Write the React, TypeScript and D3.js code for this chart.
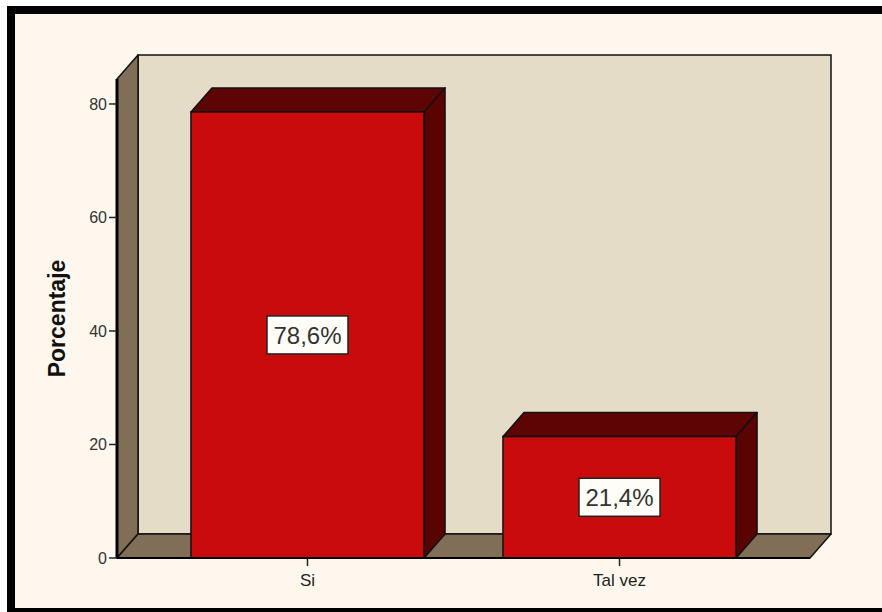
import React from "react";
import * as d3 from "d3";

const categories = ["Si", "Tal vez"];
const values = [78.6, 21.4];
const valueLabels = ["78,6%", "21,4%"];
const yTicks = [0, 20, 40, 60, 80];
const yTitle = "Porcentaje";

const W = 882;
const H = 612;
const DX = 21;
const DY = -24;

export default function App() {
  const x0 = 117;
  const x1 = 810;
  const yBottom = 558;
  const yTop = 79;
  const y = d3.scaleLinear().domain([0, 84.4]).range([yBottom, yTop]);
  const x = d3
    .scaleBand<string>()
    .domain(categories)
    .range([x0, x1])
    .paddingInner(0.253)
    .paddingOuter(0.237);

  const font = "'Liberation Sans', Arial, sans-serif";
  const stroke = "#111";

  const pts = (arr: number[][]) => arr.map((p) => p.join(",")).join(" ");

  return (
    <svg
      width={W}
      height={H}
      style={{ position: "absolute", left: 0, top: 0, display: "block" }}
    >
      <rect x={0} y={0} width={W} height={H} fill="#ffffff" />
      {/* frame */}
      <rect x={11} y={10} width={W + 20} height={602} fill="#FEF7EE" stroke="#000" strokeWidth={8} />

      {/* back wall */}
      <rect
        x={x0 + DX}
        y={yTop + DY}
        width={x1 - x0}
        height={yBottom - yTop}
        fill="#E5DCC8"
        stroke={stroke}
        strokeWidth={1.5}
      />
      {/* side wall */}
      <polygon
        points={pts([
          [x0, yTop],
          [x0 + DX, yTop + DY],
          [x0 + DX, yBottom + DY],
          [x0, yBottom],
        ])}
        fill="#806E57"
        stroke={stroke}
        strokeWidth={1.5}
        strokeLinejoin="round"
      />
      {/* floor */}
      <polygon
        points={pts([
          [x0, yBottom],
          [x0 + DX, yBottom + DY],
          [x1 + DX, yBottom + DY],
          [x1, yBottom],
        ])}
        fill="#806E57"
        stroke={stroke}
        strokeWidth={1.5}
        strokeLinejoin="round"
      />

      {/* bars */}
      {categories.map((c, i) => {
        const bx = x(c)!;
        const bw = x.bandwidth();
        const ty = y(values[i]);
        return (
          <g key={c}>
            <polygon
              points={pts([
                [bx, ty],
                [bx + DX, ty + DY],
                [bx + bw + DX, ty + DY],
                [bx + bw, ty],
              ])}
              fill="#5E0404"
              stroke={stroke}
              strokeWidth={1.5}
              strokeLinejoin="round"
            />
            <polygon
              points={pts([
                [bx + bw, ty],
                [bx + bw + DX, ty + DY],
                [bx + bw + DX, yBottom + DY],
                [bx + bw, yBottom],
              ])}
              fill="#5A0303"
              stroke={stroke}
              strokeWidth={1.5}
              strokeLinejoin="round"
            />
            <rect
              x={bx}
              y={ty}
              width={bw}
              height={yBottom - ty}
              fill="#CA0B0B"
              stroke={stroke}
              strokeWidth={1.5}
            />
          </g>
        );
      })}

      {/* axes */}
      <line x1={x0} y1={yTop} x2={x0} y2={yBottom} stroke="#000" strokeWidth={3} />
      <line x1={x0} y1={yBottom} x2={x1} y2={yBottom} stroke="#000" strokeWidth={2} />
      {yTicks.map((t) => (
        <g key={t}>
          <line x1={x0 - 8} y1={y(t)} x2={x0} y2={y(t)} stroke="#222" strokeWidth={1.5} />
          <text
            x={x0 - 10}
            y={y(t)}
            dy="0.35em"
            textAnchor="end"
            fontFamily={font}
            fontSize={16}
            fill="#333"
          >
            {t}
          </text>
        </g>
      ))}
      {categories.map((c) => {
        const cx = x(c)! + x.bandwidth() / 2;
        return (
          <g key={c}>
            <line x1={cx} y1={yBottom} x2={cx} y2={yBottom + 8} stroke="#222" strokeWidth={1.5} />
            <text
              x={cx}
              y={yBottom + 28}
              textAnchor="middle"
              fontFamily={font}
              fontSize={17}
              fill="#222"
            >
              {c}
            </text>
          </g>
        );
      })}

      <text
        transform={`translate(65,${(yTop + yBottom) / 2}) rotate(-90)`}
        textAnchor="middle"
        fontFamily={font}
        fontSize={23}
        fontWeight="bold"
        fill="#111"
      >
        {yTitle}
      </text>

      {/* value labels */}
      {categories.map((c, i) => {
        const cx = x(c)! + x.bandwidth() / 2;
        const cy = y(values[i] / 2);
        const bw = 81;
        const bh = 38;
        return (
          <g key={c + "l"}>
            <rect
              x={cx - bw / 2}
              y={cy - bh / 2}
              width={bw}
              height={bh}
              fill="#FFFDF8"
              stroke="#222"
              strokeWidth={1.5}
            />
            <text
              x={cx}
              y={cy}
              dy="0.36em"
              textAnchor="middle"
              fontFamily={font}
              fontSize={24}
              fill="#333"
            >
              {valueLabels[i]}
            </text>
          </g>
        );
      })}
    </svg>
  );
}
